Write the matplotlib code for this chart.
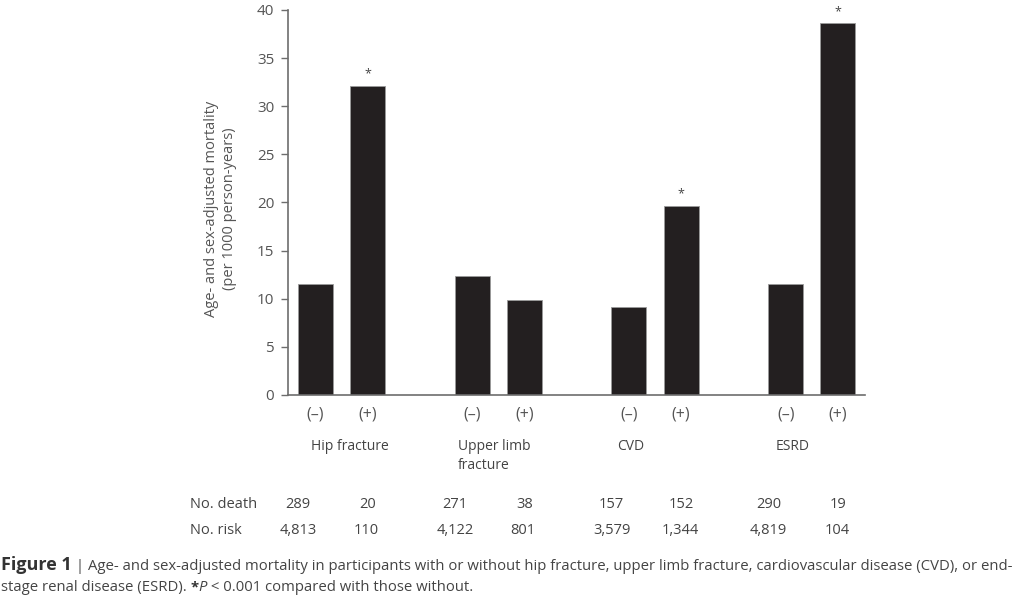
import numpy as np
import matplotlib.pyplot as plt
import matplotlib.transforms as mtransforms

plt.rcParams['font.family'] = ['Open Sans', 'DejaVu Sans']

# data
groups = ['Hip fracture', 'Upper limb\nfracture', 'CVD', 'ESRD']
signs = ['(\u2013)', '(+)']
mortality_neg = [11.5, 12.4, 9.1, 11.5]
mortality_pos = [32.1, 9.9, 19.6, 38.6]
significant = [True, False, True, True]
deaths_neg = ['289', '271', '157', '290']
deaths_pos = ['20', '38', '152', '19']
risk_neg = ['4,813', '4,122', '3,579', '4,819']
risk_pos = ['110', '801', '1,344', '104']

grey = '#555555'
txt = '#444444'
bar_col = '#231f20'

fig = plt.figure(figsize=(10.24, 5.98), dpi=100)
ax = fig.add_axes([0.2813, 0.3395, 0.5635, 0.6438])

x_neg = np.arange(len(groups)) * 3.0
x_pos = x_neg + 1.0
w = 0.67
ax.bar(x_neg, mortality_neg, width=w, color=bar_col, edgecolor='#9a9a9a', linewidth=0.6)
ax.bar(x_pos, mortality_pos, width=w, color=bar_col, edgecolor='#9a9a9a', linewidth=0.6)

# asterisks for significance
for xp, h, s in zip(x_pos, mortality_pos, significant):
    if s:
        ax.annotate('*', (xp, h), xytext=(0, 4), textcoords='offset points',
                    ha='center', va='bottom', fontsize=9, color=txt)

ax.set_xlim(-0.52, x_pos[-1] + 0.52)
ax.set_ylim(0, 40)
ax.set_yticks(np.arange(0, 41, 5))
ax.set_xticks(np.column_stack([x_neg, x_pos]).ravel())
ax.set_xticklabels(signs * len(groups))

for side in ['top', 'right']:
    ax.spines[side].set_visible(False)
for side in ['left', 'bottom']:
    ax.spines[side].set_color('#6d6d6d')
    ax.spines[side].set_linewidth(1.2)
ax.tick_params(axis='y', direction='out', length=5, width=1, color='#6d6d6d',
               labelsize=11, labelcolor=grey, pad=5)
ax.tick_params(axis='x', length=0, labelsize=11.5, labelcolor=grey, pad=8)

ax.set_ylabel('Age- and sex-adjusted mortality\n(per 1000 person-years)',
              fontsize=10.5, color=grey, linespacing=1.3)
ax.yaxis.set_label_coords(-0.088, 0.483)

trans = mtransforms.blended_transform_factory(ax.transData, fig.transFigure)

# group names
name_x = [-0.08, 2.73, 5.77, 8.81]
for gx, name in zip(name_x, groups):
    ax.text(gx, 0.266, name, transform=trans, ha='left', va='top',
            fontsize=10, color=txt, linespacing=1.4)

# numbers table
fig.text(190 / 1024, 0.157, 'No. death', ha='left', va='center', fontsize=10.5, color=txt)
fig.text(190 / 1024, 0.1137, 'No. risk', ha='left', va='center', fontsize=10.5, color=txt)
for xn, xp, dn, dp, rn, rp in zip(x_neg, x_pos, deaths_neg, deaths_pos, risk_neg, risk_pos):
    ax.text(xn - 0.33, 0.157, dn, transform=trans, ha='center', va='center', fontsize=10.5, color=txt)
    ax.text(xp + 0.0, 0.157, dp, transform=trans, ha='center', va='center', fontsize=10.5, color=txt)
    ax.text(xn - 0.33, 0.1137, rn, transform=trans, ha='center', va='center', fontsize=10.5, color=txt)
    ax.text(xp - 0.02, 0.1137, rp, transform=trans, ha='center', va='center', fontsize=10.5, color=txt)

# caption, pieces placed one after another
renderer = fig.canvas.get_renderer()


def run_text(x_px, y, pieces):
    for s, kw in pieces:
        t = fig.text(x_px / 1024, y, s, ha='left', va='baseline', **kw)
        x_px = t.get_window_extent(renderer).x1
    return x_px


reg = dict(fontsize=10.75, color=txt)
run_text(1, 0.046, [
    ('Figure 1', dict(fontsize=13, fontweight='bold', color='#333333')),
    (' | Age- and sex-adjusted mortality in participants with or without hip fracture, upper limb fracture, '
     'cardiovascular disease (CVD), or end-', reg),
])
run_text(1, 0.011, [
    ('stage renal disease (ESRD). ', reg),
    ('*', dict(fontsize=10.75, fontweight='bold', color='#333333')),
    ('P', dict(fontsize=10.75, style='italic', color=txt)),
    (' < 0.001 compared with those without.', reg),
])

fig.savefig('out.png', dpi=100)
